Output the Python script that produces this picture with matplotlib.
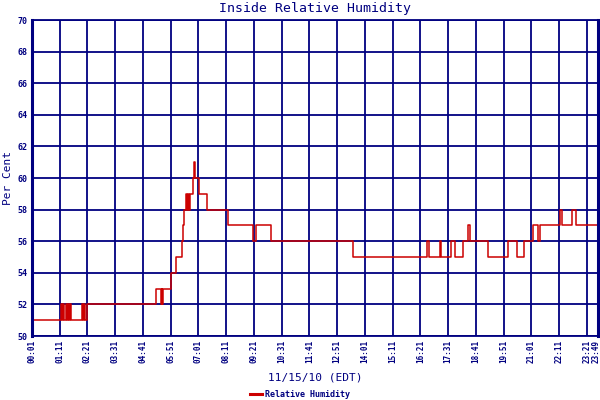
import matplotlib
matplotlib.use("Agg")
import matplotlib.pyplot as plt
import matplotlib.transforms as mtransforms

# readings (time of change, value)
times = ["00:01", "01:14", "01:17", "01:20", "01:22", "01:27", "01:30", "01:33",
         "01:35", "01:37", "01:39", "02:06", "02:10", "02:13", "02:15", "02:19",
         "05:14", "05:26", "05:28", "05:30", "05:32", "05:51", "06:04", "06:19",
         "06:23", "06:25", "06:30", "06:32", "06:35", "06:37", "06:40", "06:46",
         "06:49", "06:51", "07:02", "07:22", "08:16", "09:19", "09:26", "10:03",
         "13:30", "16:37", "16:43", "17:11", "17:14", "17:38", "17:49", "18:09",
         "18:20", "18:25", "19:11", "20:03", "20:24", "20:43", "21:04", "21:17",
         "21:23", "22:13", "22:17", "22:43", "22:53", "23:49"]
humidity = [51, 52, 51, 52, 51, 52, 51, 52,
            51, 52, 51, 52, 51, 52, 51, 52,
            53, 52, 53, 52, 53, 54, 55, 56,
            57, 58, 59, 58, 59, 58, 59, 60,
            61, 60, 59, 58, 57, 56, 57, 56,
            55, 56, 55, 56, 55, 56, 55, 56,
            57, 56, 55, 56, 55, 56, 57, 56,
            57, 58, 57, 58, 57, 57]

tick_labels = ["00:01", "01:11", "02:21", "03:31", "04:41", "05:51", "07:01",
               "08:11", "09:21", "10:31", "11:41", "12:51", "14:01", "15:11",
               "16:21", "17:31", "18:41", "19:51", "21:01", "22:11", "23:21",
               "23:49"]
y_ticks = [50, 52, 54, 56, 58, 60, 62, 64, 66, 68, 70]


def ToMinutes(t):
    h, m = t.split(":")
    return int(h) * 60 + int(m)


navy = "#000080"
x = [ToMinutes(t) for t in times]
xt = [ToMinutes(t) for t in tick_labels]

fig = plt.figure(figsize=(6, 4), dpi=100)
ax = fig.add_axes([32 / 600, 64 / 400, 566 / 600, 316 / 400])

ax.step(x, humidity, where="post", color="#cc0000", lw=1.1, label="Relative Humidity")

ax.set_xlim(xt[0], xt[-1])
ax.set_ylim(50, 70)
ax.set_xticks(xt)
ax.set_xticklabels(tick_labels, rotation=90, family="DejaVu Sans Mono",
                   fontsize=5.5, fontweight="bold", color=navy)
ax.set_yticks(y_ticks)
ax.set_yticklabels([str(v) for v in y_ticks], family="DejaVu Sans Mono",
                   fontsize=6, fontweight="bold", color=navy)
ax.tick_params(length=0, pad=3)
# last label sits on the right edge, nudge it in a bit
last = ax.get_xticklabels()[-1]
last.set_transform(last.get_transform() +
                   mtransforms.ScaledTranslation(-1.2 / 72, 0, fig.dpi_scale_trans))

ax.grid(True, color=navy, lw=1.3)
ax.set_axisbelow(True)
for s in ["left", "right"]:
    ax.spines[s].set_color(navy)
    ax.spines[s].set_linewidth(2.2)
for s in ["top", "bottom"]:
    ax.spines[s].set_color(navy)
    ax.spines[s].set_linewidth(1.3)

fig.text(0.525, 0.978, "Inside Relative Humidity", ha="center", va="center",
         family="DejaVu Sans Mono", fontsize=9.5, color=navy)
fig.text(0.013, 0.555, "Per Cent", ha="center", va="center", rotation=90,
         family="DejaVu Sans Mono", fontsize=8, color=navy)
fig.text(0.525, 0.055, "11/15/10 (EDT)", ha="center", va="center",
         family="DejaVu Sans Mono", fontsize=8, color=navy)

leg = fig.legend(loc="center", bbox_to_anchor=(0.5, 0.013), frameon=False,
                 prop={"family": "DejaVu Sans Mono", "size": 6, "weight": "bold"},
                 handlelength=1.4, handletextpad=0.3, borderpad=0)
for t in leg.get_texts():
    t.set_color(navy)
leg.get_lines()[0].set_linewidth(2.2)

fig.savefig("out.png", dpi=100)
